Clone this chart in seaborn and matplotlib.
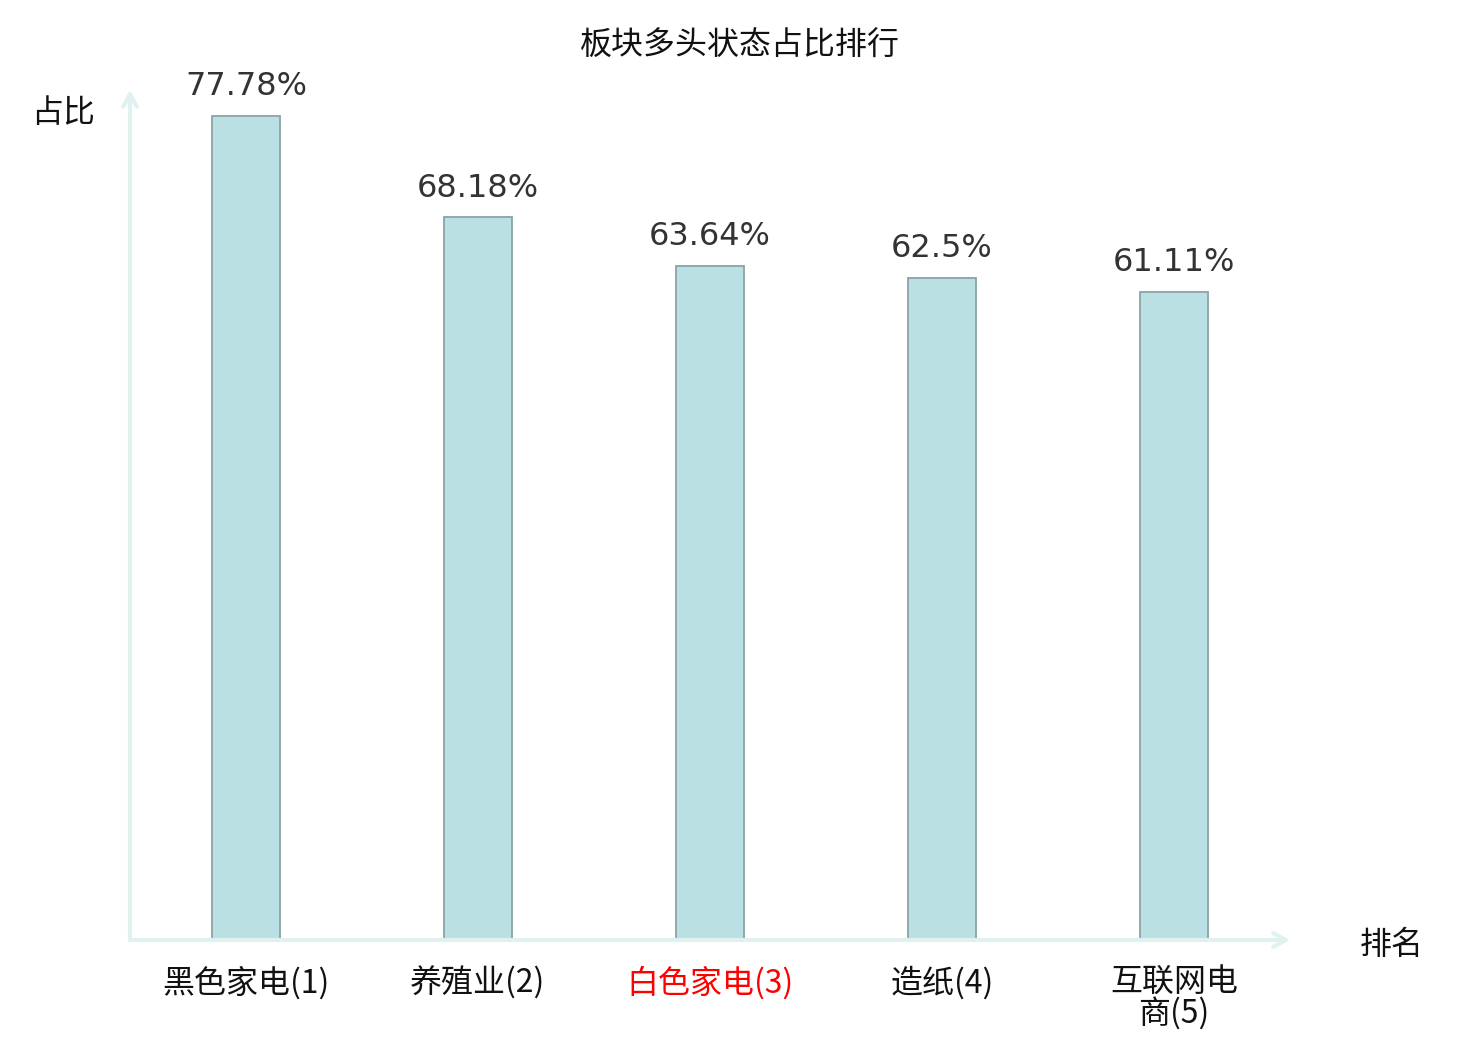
import matplotlib
matplotlib.use('Agg')
import matplotlib.pyplot as plt
import seaborn as sns
import pandas as pd

# dados do grafico
setores = ['黑色家电(1)', '养殖业(2)', '白色家电(3)', '造纸(4)', '互联网电\n商(5)']
percentuais = [77.78, 68.18, 63.64, 62.5, 61.11]
destaque = 2  # rotulo em vermelho

sns.set_style('white')
plt.rcParams['font.family'] = ['Noto Sans CJK SC', 'DejaVu Sans']

df = pd.DataFrame({'setor': setores, 'pct': percentuais})

fig = plt.figure(figsize=(14.8, 10.4), dpi=100)
ax = fig.add_axes([130 / 1480, 100 / 1040, 1160 / 1480, 850 / 1040])

sns.barplot(data=df, x='setor', y='pct', ax=ax, width=68 / 232,
            color='#bae0e3', edgecolor='#88a4a6', linewidth=1.3, saturation=1)

ax.set_xlim(-0.5, 4.5)
ax.set_ylim(0, 80.2)
for s in ax.spines.values():
    s.set_visible(False)
ax.set_yticks([])
ax.set_xlabel('')
ax.set_ylabel('')
ax.tick_params(axis='x', length=0, pad=19, labelsize=23)
for i, lbl in enumerate(ax.get_xticklabels()):
    lbl.set_linespacing(0.95)
    lbl.set_color('#ff0000' if i == destaque else '#111111')

# rotulos de valor
ax.bar_label(ax.containers[0], labels=[f'{v:g}%' for v in percentuais],
             padding=10, fontsize=23, color='#333333', family='DejaVu Sans')

# eixos com setas
cor_eixo = '#dff2f0'
seta = dict(arrowstyle='->,head_length=0.9,head_width=0.5', color=cor_eixo, lw=3,
            shrinkA=0, shrinkB=0)
ax.annotate('', xy=(0, 1.0), xytext=(0, 0), xycoords='axes fraction', arrowprops=seta)
ax.annotate('', xy=(1.0, 0), xytext=(0, 0), xycoords='axes fraction', arrowprops=seta)

fig.text(63 / 1480, 1 - 113 / 1040, '占比', ha='center', va='center', fontsize=23, color='#111111')
fig.text(1392 / 1480, 1 - 945 / 1040, '排名', ha='center', va='center', fontsize=23, color='#111111')
fig.text(740 / 1480, 1 - 46 / 1040, '板块多头状态占比排行', ha='center', va='center',
         fontsize=23, color='#111111')

fig.savefig('out.png', dpi=100)
